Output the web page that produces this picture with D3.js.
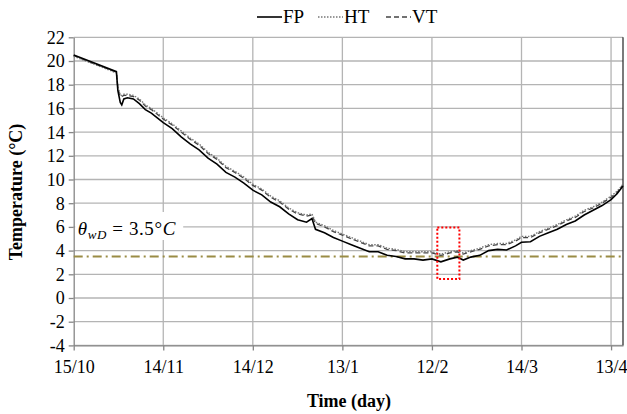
<!DOCTYPE html>
<html>
<head>
<meta charset="utf-8">
<script src="https://cdn.jsdelivr.net/npm/d3@7"></script>
<style>
body { margin: 0; background: #fff; }
svg { display: block; }
</style>
</head>
<body>
<div id="chart"></div>
<script>
// Temperature chart
///

const days = [0, 14.3, 14.8, 15.6, 16.1, 16.8, 18, 20, 22, 24, 26, 28, 30, 33, 36, 39, 42, 45, 48, 51, 54, 57, 60, 63, 66, 69, 72, 75, 78, 79.8, 81, 84, 87, 90, 93, 96, 99, 102, 105, 108, 111, 114, 117, 120, 123, 126, 128.5, 130.5, 133, 136, 139, 142, 145, 148, 150, 153, 156, 159, 162, 165, 168, 171, 174, 177, 180, 182, 184];
const fp = [20.5, 19.1, 17.5, 16.5, 16.3, 16.8, 16.9, 16.8, 16.4, 15.9, 15.6, 15.2, 14.8, 14.3, 13.6, 13.0, 12.5, 11.8, 11.3, 10.6, 10.2, 9.7, 9.1, 8.7, 8.1, 7.7, 7.1, 6.6, 6.4, 6.7, 5.8, 5.5, 5.1, 4.8, 4.5, 4.2, 3.9, 3.9, 3.6, 3.5, 3.3, 3.3, 3.2, 3.3, 3.05, 3.3, 3.45, 3.2, 3.45, 3.6, 4.0, 4.1, 4.05, 4.4, 4.7, 4.75, 5.2, 5.5, 5.8, 6.2, 6.5, 7.0, 7.4, 7.8, 8.3, 8.8, 9.45];
const ht = [20.4, 19.0, 17.8, 17.1, 17.1, 17.2, 17.2, 17.1, 16.8, 16.3, 16.0, 15.6, 15.2, 14.7, 14.1, 13.5, 13.0, 12.3, 11.8, 11.1, 10.7, 10.2, 9.6, 9.2, 8.6, 8.2, 7.6, 7.2, 7.0, 7.1, 6.4, 6.1, 5.7, 5.4, 5.1, 4.8, 4.5, 4.5, 4.2, 4.1, 3.9, 3.9, 3.9, 3.9, 3.7, 3.9, 4.0, 3.8, 4.0, 4.2, 4.5, 4.6, 4.6, 4.9, 5.2, 5.2, 5.6, 5.9, 6.2, 6.6, 6.9, 7.4, 7.7, 8.1, 8.6, 9.0, 9.6];
const vt = [20.45, 19.05, 17.7, 17.0, 17.0, 17.1, 17.1, 17.0, 16.7, 16.2, 15.9, 15.5, 15.1, 14.6, 14.0, 13.4, 12.9, 12.2, 11.7, 11.0, 10.6, 10.1, 9.5, 9.1, 8.5, 8.1, 7.5, 7.1, 6.9, 7.0, 6.3, 6.0, 5.6, 5.3, 5.0, 4.7, 4.4, 4.4, 4.1, 4.0, 3.8, 3.8, 3.8, 3.8, 3.6, 3.8, 3.9, 3.7, 3.9, 4.1, 4.4, 4.5, 4.5, 4.8, 5.1, 5.1, 5.5, 5.8, 6.1, 6.5, 6.8, 7.3, 7.6, 8.0, 8.5, 8.9, 9.55];

const xTicks = [0, 30, 60, 90, 120, 150, 180];
const xTickLabels = ["15/10", "14/11", "14/12", "13/1", "12/2", "14/3", "13/4"];
const yTicks = [-4, -2, 0, 2, 4, 6, 8, 10, 12, 14, 16, 18, 20, 22];
const threshold = 3.5;
const boxDays = [121.8, 129.2];
const boxTemps = [1.6, 5.95];

const W = 627, H = 414;
const margin = {left: 73.7, right: 4, top: 37.3, bottom: 68.6};
const SERIF = "Liberation Serif";

let svg = d3.select("#chart").append("svg")
	.attr("width", W).attr("height", H);

const x = d3.scaleLinear().domain([0, 184]).range([margin.left, W - margin.right]);
const y = d3.scaleLinear().domain([-4, 22]).range([H - margin.bottom, margin.top]);

// grid
svg.append("g").selectAll("line")
	.data(yTicks).enter().append("line")
	.attr("x1", x(0)).attr("x2", x(184))
	.attr("y1", d => y(d)).attr("y2", d => y(d))
	.attr("stroke", "#b4b4b4").attr("stroke-width", 1.3);
svg.append("g").selectAll("line")
	.data(xTicks.slice(1)).enter().append("line")
	.attr("x1", d => x(d)).attr("x2", d => x(d))
	.attr("y1", y(-4)).attr("y2", y(22))
	.attr("stroke", "#b4b4b4").attr("stroke-width", 1.3);

// right border
svg.append("line")
	.attr("x1", x(184)).attr("x2", x(184)).attr("y1", y(22)).attr("y2", y(-4))
	.attr("stroke", "#222").attr("stroke-width", 1.2);

// axes
let yAxis = svg.append("g").attr("transform", "translate(" + x(0) + ",0)")
	.call(d3.axisLeft(y).tickValues(yTicks).tickSize(5).tickSizeOuter(0).tickFormat(d => String(d)));
let xAxis = svg.append("g").attr("transform", "translate(0," + y(-4) + ")")
	.call(d3.axisBottom(x).tickValues(xTicks).tickSize(5).tickSizeOuter(0).tickFormat((d, i) => xTickLabels[i]));
[xAxis, yAxis].forEach(a => {
	a.attr("font-family", SERIF).attr("font-size", 18);
	a.select(".domain").attr("stroke", "#868686").attr("stroke-width", 1.3);
	a.selectAll(".tick line").attr("stroke", "#868686").attr("stroke-width", 1.3);
	a.selectAll("text").attr("fill", "#000")
		.style("font-family", SERIF).style("font-size", "18px");
});
yAxis.selectAll("text").attr("x", -9).attr("dy", "0.33em");
xAxis.selectAll("text").attr("y", 13).attr("dy", "0.8em");

// threshold line
svg.append("line")
	.attr("x1", x(0)).attr("x2", x(184))
	.attr("y1", y(threshold)).attr("y2", y(threshold))
	.attr("stroke", "#9a8c45").attr("stroke-width", 2)
	.attr("stroke-dasharray", "9,4,2,4");

// series (drawn back to front)
const series = [
	{name: "VT", values: vt, dash: "5,3", color: "#444", width: 1.3},
	{name: "HT", values: ht, dash: "1.5,1.5", color: "#777", width: 1.4},
	{name: "FP", values: fp, dash: null, color: "#000", width: 1.6}
];
const lineGen = vals => d3.line().x((d, i) => x(days[i])).y(d => y(d))(vals);
series.forEach(s => {
	svg.append("path")
		.attr("d", lineGen(s.values))
		.attr("fill", "none")
		.attr("stroke", s.color)
		.attr("stroke-width", s.width)
		.attr("stroke-dasharray", s.dash);
});

// annotation box
svg.append("rect")
	.attr("x", x(0) + 1.5).attr("y", 212)
	.attr("width", 108).attr("height", 28)
	.attr("fill", "#fff");
let ann = svg.append("text").attr("x", x(0) + 4).attr("y", 235)
	.style("font-family", SERIF).style("font-size", "19px").style("letter-spacing", "0.6px");
ann.append("tspan").style("font-style", "italic").text("θ");
ann.append("tspan").style("font-style", "italic").style("font-size", "13px").attr("dy", 4).text("wD");
ann.append("tspan").attr("dy", -4).text(" = 3.5°");
ann.append("tspan").style("font-style", "italic").text("C");

// red dotted box
svg.append("rect")
	.attr("x", x(boxDays[0])).attr("y", y(boxTemps[1]))
	.attr("width", x(boxDays[1]) - x(boxDays[0]))
	.attr("height", y(boxTemps[0]) - y(boxTemps[1]))
	.attr("fill", "none").attr("stroke", "#ff0000").attr("stroke-width", 2)
	.attr("stroke-dasharray", "2,2");

// legend
const legend = [
	{name: "FP", x: 257, dash: null, color: "#000"},
	{name: "HT", x: 318, dash: "1.5,1.5", color: "#777"},
	{name: "VT", x: 386, dash: "5,3", color: "#444"}
];
legend.forEach(l => {
	svg.append("line").attr("x1", l.x).attr("x2", l.x + 25).attr("y1", 17).attr("y2", 17)
		.attr("stroke", l.color).attr("stroke-width", 1.6).attr("stroke-dasharray", l.dash);
	svg.append("text").attr("x", l.x + 26).attr("y", 23)
		.style("font-family", SERIF).style("font-size", "19px").text(l.name);
});

// axis titles
svg.append("text").attr("x", 349).attr("y", 407).attr("text-anchor", "middle")
	.style("font-family", SERIF).style("font-size", "18px").style("font-weight", "bold").text("Time (day)");
svg.append("text").attr("transform", "translate(22,192) rotate(-90)").attr("text-anchor", "middle")
	.style("font-family", SERIF).style("font-size", "18px").style("font-weight", "bold").text("Temperature (°C)");
</script>
</body>
</html>
